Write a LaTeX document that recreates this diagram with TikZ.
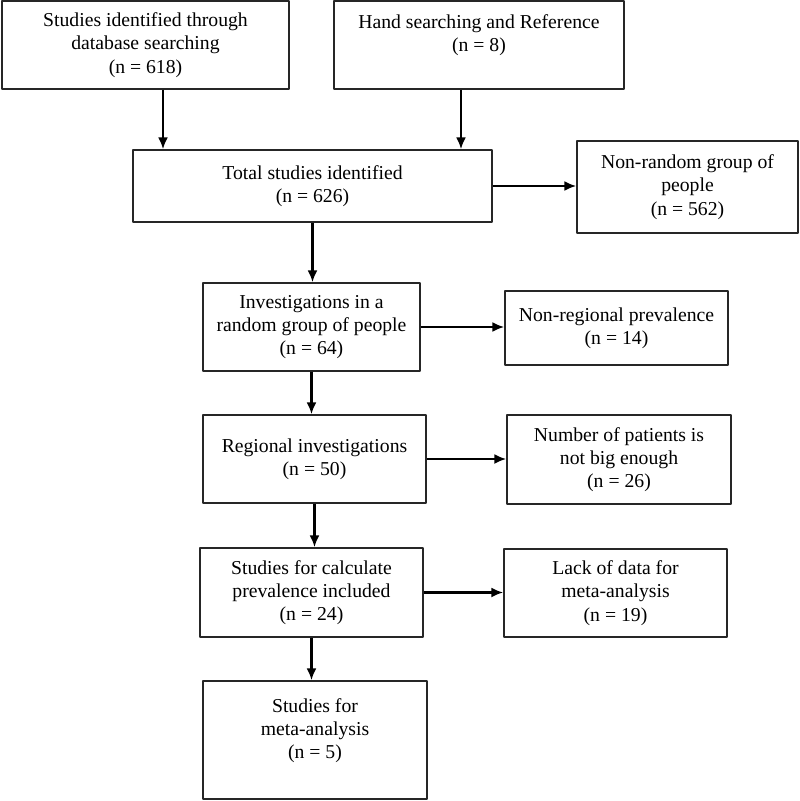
\documentclass[tikz,border=0pt]{standalone}
\usepackage{fontspec}
\setmainfont{Liberation Serif}
\usetikzlibrary{arrows.meta}
\begin{document}
\begin{tikzpicture}[x=1pt,y=-1pt,>={Latex[length=12pt,width=10pt]},line join=round,
	font=\fontsize{19.7}{23.2}\selectfont,
	box/.style={draw=black!85,line width=1.4pt,inner sep=0pt,align=center},
	flow/.style={->,line width=2.2pt}]
			\useasboundingbox (0,0) rectangle (800,801);
			% top row
			\node [box,minimum width=287,minimum height=88] (db) at (145.5,45) {Studies identified through\\database searching\\(n = 618)};
			\node [box,minimum width=290,minimum height=88] (hand) at (479,45) {Hand searching and Reference\\(n = 8)\\\mbox{}};
			\node [box,minimum width=359,minimum height=72] (tot) at (312.5,186) {Total studies identified\\(n = 626)};
			\node [box,minimum width=221,minimum height=92] (nonrand) at (687.5,187) {Non-random group of\\people\\(n = 562)};
			% main column
			\node [box,minimum width=217,minimum height=88] (inv) at (311.5,327) {Investigations in a\\random group of people\\(n = 64)};
			\node [box,minimum width=223,minimum height=88] (reg) at (314.5,459) {Regional investigations\\(n = 50)};
			\node [box,minimum width=223,minimum height=89] (calc) at (311.5,592.5) {Studies for calculate\\prevalence included\\(n = 24)};
			\node [box,minimum width=224,minimum height=118] (meta) at (315,740) {Studies for\\meta-analysis\\(n = 5)\\\mbox{}};
			% exclusions
			\node [box,minimum width=223,minimum height=74] (nonreg) at (616.5,328) {Non-regional prevalence\\(n = 14)};
			\node [box,minimum width=224,minimum height=89] (pat) at (619,459.5) {Number of patients is\\not big enough\\(n = 26)};
			\node [box,minimum width=223,minimum height=88] (lack) at (615.5,593) {Lack of data for\\meta-analysis\\(n = 19)};
			% arrows
			\draw [flow] ([xshift=17.5pt]db.south) -- ([xshift=17.5pt]db.south |- tot.north);
			\draw [flow] ([xshift=-18pt]hand.south) -- ([xshift=-18pt]hand.south |- tot.north);
			\draw [flow] (tot.east) -- (tot.east -| nonrand.west);
			\draw [flow] (tot.south) -- (tot.south |- inv.north);
			\draw [flow] (inv.east) -- (inv.east -| nonreg.west);
			\draw [flow] (inv.south) -- (inv.south |- reg.north);
			\draw [flow] (reg.east) -- (reg.east -| pat.west);
			\draw [flow] (reg.south) -- (reg.south |- calc.north);
			\draw [flow] (calc.east) -- (calc.east -| lack.west);
			\draw [flow] (calc.south) -- (calc.south |- meta.north);
\end{tikzpicture}
\end{document}
